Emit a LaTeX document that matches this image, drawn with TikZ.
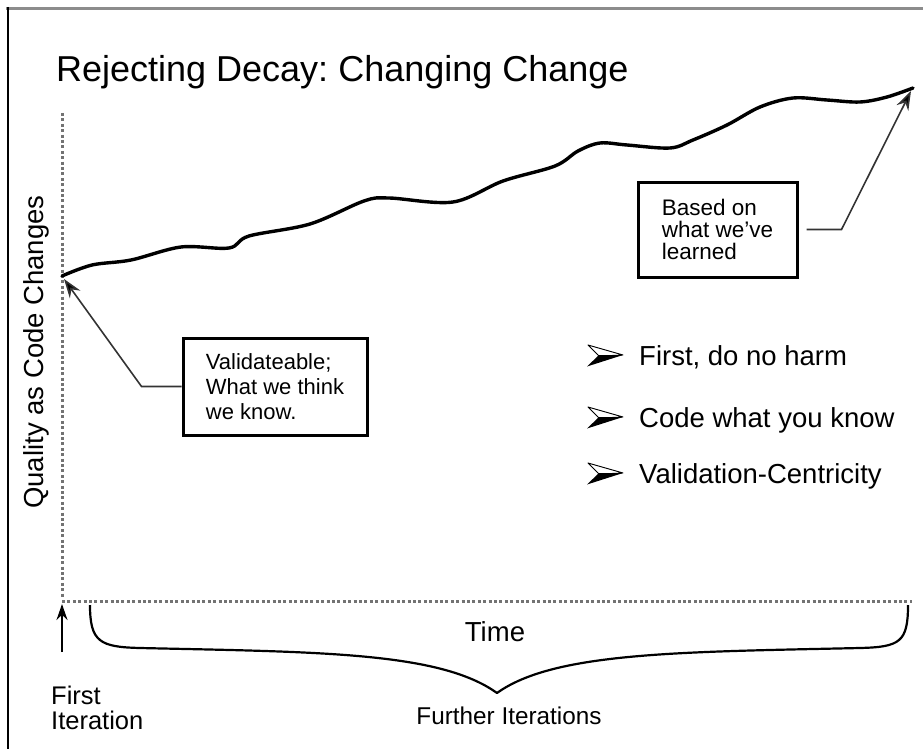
\documentclass[tikz,border=0pt]{standalone}
\usepackage{fontspec}
\setmainfont{Liberation Sans}
\usetikzlibrary{arrows.meta}
\frenchspacing
\tikzset{
  frameline/.style={line width=3pt, draw=black!45},
  axisdot/.style={draw=black!55, line width=3pt, dash pattern=on 3pt off 2.4pt},
  quality/.style={line width=3.4pt, line cap=round, line join=round},
  notebox/.style={draw, line width=3pt, align=left, inner sep=0pt,
     font=\fontsize{22}{25}\selectfont},
  conn/.style={draw=black!80, line width=1.6pt, -{Stealth[length=19pt,width=13pt,fill=black]}},
  bullettext/.style={anchor=base west, inner sep=0pt, font=\fontsize{27.5}{30}\selectfont},
  arrowbullet/.pic={
    \draw[line width=0.9pt, line join=round] (18,0) -- (-17,-10) -- (-6,1) -- cycle;
    \fill[black] (18,0) -- (-6,0) -- (-18,11.5) -- cycle;
  }
}
\begin{document}
\begin{tikzpicture}[x=1pt, y=-1pt]
\useasboundingbox (0,0) rectangle (923,749);
% frame
\draw[frameline] (6,8.5) -- (923,8.5);
\draw[line width=2pt] (7.5,7) -- (7.5,749);
% title
\node[anchor=base west, inner sep=0pt, font=\fontsize{36}{40}\selectfont] (title) at (56,82) {Rejecting Decay: Changing Change};
% axes
\coordinate (ytop) at (62,113);
\coordinate (origin) at (62,601);
\coordinate (xend) at (912,601);
\draw[axisdot] (ytop) -- (62,597);
\draw[axisdot] (origin) -- (xend);
\node[rotate=90, inner sep=0pt, font=\fontsize{27.5}{30}\selectfont] (ylabel) at (36,352) {Quality as Code Changes};
% quality curve
\coordinate (qstart) at (62,276);
\coordinate (qend) at (913,88);
\draw[quality] plot[smooth, tension=0.55] coordinates {
 (62,276) (92,265) (131,260) (181,247) (229,248) (249,236) (310,224) (364,201)
 (389,198) (453,202) (503,181) (555,166) (578,151) (600,143) (627,145) (670,148)
 (693,140) (727,125) (760,107) (793,98) (827,100) (860,102) (887,97) (913,88)};
% note boxes
\node[notebox, minimum width=184pt, minimum height=97pt] (b1) at (275,386.5)
  {Validateable;\\What we think\\we know.};
\node[notebox, minimum width=159pt, minimum height=95pt, font=\fontsize{22.5}{22}\selectfont] (b2) at (717.5,229.5)
  {Based on\\what we've\\learned};
\coordinate (t1) at (64,279);
\coordinate (t2) at (911,91);
\draw[conn] (b1.west) -- ++(-40,0) -- (t1);
\draw[conn] ([xshift=8pt]b2.east) -- ++(35,0) -- (t2);
% bullets
\pic at (605,355) {arrowbullet};
\pic at (605,417) {arrowbullet};
\pic at (605,473) {arrowbullet};
\node[bullettext] (p1) at (639,365) {First, do no harm};
\node[bullettext] (p2) at (639,427) {Code what you know};
\node[bullettext] (p3) at (639,483) {Validation-Centricity};
% time axis
\node[font=\fontsize{27.5}{30}\selectfont, inner sep=0pt] (time) at (495,632) {Time};
\draw[line width=2.2pt, line join=round] (90,605) .. controls (90,642) and (100,647) .. (140,648)
  .. controls (320,652) and (440,652) .. (497,693)
  .. controls (554,652) and (680,652) .. (860,648)
  .. controls (900,647) and (908,642) .. (908,605);
\node[font=\fontsize{24.3}{26}\selectfont, inner sep=0pt] (further) at (509,716) {Further Iterations};
\coordinate (fa) at (62,652);
\draw[line width=2pt, -{Stealth[length=16pt,width=11pt]}] (fa) -- (62,604);
\node[anchor=north west, align=left, inner sep=0pt, font=\fontsize{25.5}{25}\selectfont] (first) at (51,686) {First\\Iteration};
\end{tikzpicture}
\end{document}
